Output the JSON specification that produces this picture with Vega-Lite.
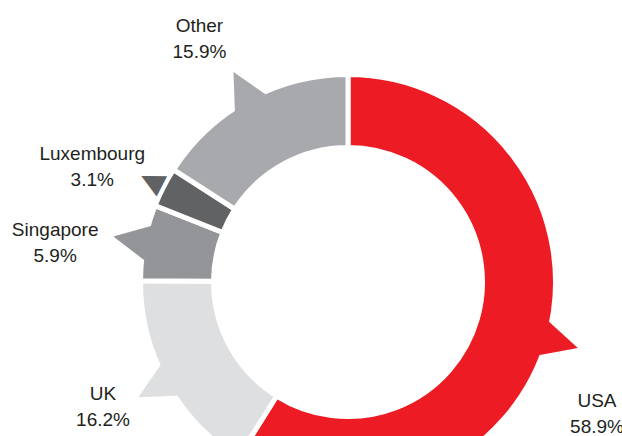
{
  "$schema": "https://vega.github.io/schema/vega-lite/v6.json",
  "width": 622,
  "height": 436,
  "autosize": {"type": "fit", "contains": "padding"},
  "padding": 0,
  "background": "white",
  "view": {"stroke": null},
  "data": {
    "values": [
      {"country": "USA", "share": 58.9, "rank": 1},
      {"country": "UK", "share": 16.2, "rank": 2},
      {"country": "Singapore", "share": 5.9, "rank": 3},
      {"country": "Luxembourg", "share": 3.1, "rank": 4},
      {"country": "Other", "share": 15.9, "rank": 5}
    ]
  },
  "transform": [
    {"window": [{"op": "sum", "field": "share", "as": "cum"}], "sort": [{"field": "rank"}], "frame": [null, 0]},
    {"calculate": "(datum.cum - datum.share / 2) * 3.6", "as": "mid"},
    {"calculate": "datum.country + '\\n' + format(datum.share, '.1f') + '%'", "as": "label"}
  ],
  "encoding": {
    "theta": {"field": "share", "type": "quantitative", "stack": true},
    "order": {"field": "rank", "type": "quantitative"}
  },
  "layer": [
    {
      "mark": {"type": "arc", "x": 348, "y": 278, "radius": 207.5, "radius2": 134.5, "stroke": "white", "strokeWidth": 5},
      "encoding": {
        "color": {"field": "country", "type": "nominal", "legend": null,
          "scale": {"domain": ["USA", "UK", "Singapore", "Luxembourg", "Other"],
                    "range": ["#ED1C24", "#DEDFE0", "#939598", "#616264", "#A7A9AC"]}}
      }
    },
    {
      "mark": {"type": "text", "x": 348, "y": 278, "radius": 222, "text": "▲", "font": "DejaVu Sans", "align": "center", "baseline": "middle"},
      "encoding": {
        "color": {"field": "country", "type": "nominal", "legend": null},
        "angle": {"field": "mid", "type": "quantitative", "scale": null},
        "size": {"condition": {"test": "datum.country === 'Luxembourg'", "value": 30}, "value": 50}
      }
    },
    {
      "mark": {"type": "text", "x": 348, "y": 278, "radius": 283, "dx": -13, "dy": -8, "font": "Liberation Sans", "fontSize": 19, "lineHeight": 26, "lineBreak": "\n", "color": "#231F20", "align": "center", "baseline": "middle"},
      "encoding": {"text": {"condition": {"test": "datum.country === 'Other'", "field": "label"}, "value": ""}}
    },
    {
      "mark": {"type": "text", "x": 348, "y": 278, "radius": 283, "dx": -4, "dy": 1, "font": "Liberation Sans", "fontSize": 19, "lineHeight": 26, "lineBreak": "\n", "color": "#231F20", "align": "center", "baseline": "middle"},
      "encoding": {"text": {"condition": {"test": "datum.country === 'Luxembourg'", "field": "label"}, "value": ""}}
    },
    {
      "mark": {"type": "text", "x": 348, "y": 278, "radius": 283, "dx": -15, "dy": 2, "font": "Liberation Sans", "fontSize": 19, "lineHeight": 26, "lineBreak": "\n", "color": "#231F20", "align": "center", "baseline": "middle"},
      "encoding": {"text": {"condition": {"test": "datum.country === 'Singapore'", "field": "label"}, "value": ""}}
    },
    {
      "mark": {"type": "text", "x": 348, "y": 278, "radius": 283, "dx": 3, "dy": -24, "font": "Liberation Sans", "fontSize": 19, "lineHeight": 26, "lineBreak": "\n", "color": "#231F20", "align": "center", "baseline": "middle"},
      "encoding": {"text": {"condition": {"test": "datum.country === 'UK'", "field": "label"}, "value": ""}}
    },
    {
      "mark": {"type": "text", "x": 348, "y": 278, "radius": 283, "dx": -23, "dy": 41, "font": "Liberation Sans", "fontSize": 19, "lineHeight": 26, "lineBreak": "\n", "color": "#231F20", "align": "center", "baseline": "middle"},
      "encoding": {"text": {"condition": {"test": "datum.country === 'USA'", "field": "label"}, "value": ""}}
    }
  ]
}
